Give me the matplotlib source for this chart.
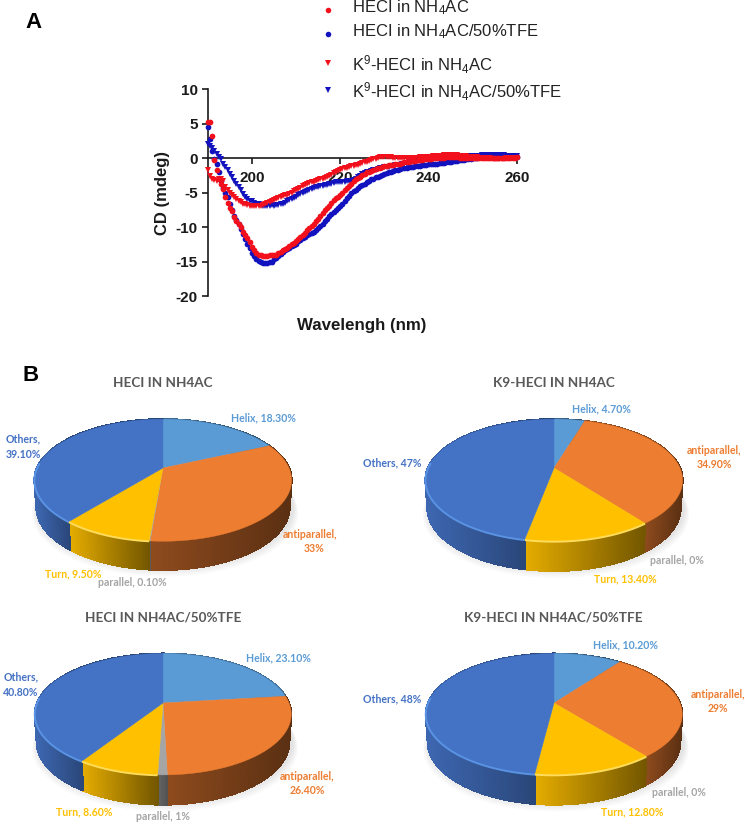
import numpy as np
import matplotlib
matplotlib.use("Agg")
import matplotlib.pyplot as plt
from matplotlib.collections import PolyCollection
from matplotlib.colors import to_rgb

plt.rcParams['font.family'] = ['Liberation Sans', 'DejaVu Sans']
plt.rcParams['mathtext.fontset'] = 'custom'
plt.rcParams['mathtext.rm'] = 'Liberation Sans'
plt.rcParams['mathtext.default'] = 'regular'
plt.rcParams['axes.unicode_minus'] = False

W, H = 750, 824

# ---- CD spectra (mdeg), one value per 0.5 nm from 190 to 260 nm ----
wavelength = np.arange(190, 260.25, 0.5)
heci_nh4ac = [
    5.2, 5.2, 3.2, -0.3, -1.7, -3.0, -3.8, -4.5, -5.7, -6.5,
    -7.3, -7.7, -8.5, -9.1, -9.6, -10.0, -10.7, -11.2, -11.6, -12.2,
    -12.9, -13.4, -13.7, -14.0, -14.1, -14.2, -14.2, -14.2, -14.1, -14.1,
    -14.1, -14.0, -13.8, -13.6, -13.4, -13.2, -13.0, -12.7, -12.5, -12.3,
    -12.0, -11.7, -11.5, -11.1, -10.8, -10.4, -10.1, -9.8, -9.5, -9.1,
    -8.8, -8.4, -8.0, -7.6, -7.3, -6.9, -6.5, -6.1, -5.8, -5.6,
    -5.4, -5.1, -4.7, -4.4, -4.0, -3.7, -3.4, -3.1, -2.9, -2.7,
    -2.5, -2.3, -2.1, -2.0, -1.9, -1.7, -1.6, -1.5, -1.4, -1.3,
    -1.2, -1.1, -1.05, -1.0, -0.95, -0.9, -0.85, -0.8, -0.7, -0.65,
    -0.6, -0.55, -0.5, -0.45, -0.4, -0.35, -0.3, -0.25, -0.2, -0.15,
    -0.1, -0.1, -0.05, -0.05, 0.0, 0.0, 0.05, 0.05, 0.1, 0.1,
    0.1, 0.1, 0.1, 0.1, 0.05, 0.05, 0.05, 0.05, 0.0, 0.0,
    0.0, 0.0, 0.05, 0.05, 0.05, 0.05, 0.0, 0.0, 0.0, 0.0,
    0.0, 0.0, 0.0, -0.05, -0.05, -0.05, -0.05, 0.0, 0.0, 0.0,
    0.1]
heci_tfe = [
    4.5, 2.7, 1.0, -0.2, -0.9, -2.0, -3.3, -4.3, -5.0, -5.7,
    -6.7, -7.5, -8.4, -9.0, -9.6, -10.3, -11.0, -11.7, -12.4, -13.0,
    -13.7, -14.2, -14.6, -14.9, -15.1, -15.2, -15.2, -15.2, -15.1, -15.0,
    -14.7, -14.5, -14.2, -13.9, -13.6, -13.4, -13.2, -13.0, -12.8, -12.6,
    -12.4, -12.1, -11.9, -11.6, -11.4, -11.2, -11.0, -10.8, -10.7, -10.5,
    -10.2, -9.9, -9.5, -9.1, -8.8, -8.4, -8.1, -7.8, -7.5, -7.2,
    -6.9, -6.6, -6.2, -5.8, -5.5, -5.1, -4.8, -4.6, -4.3, -4.1,
    -3.9, -3.7, -3.5, -3.3, -3.1, -3.0, -2.8, -2.7, -2.6, -2.4,
    -2.3, -2.2, -2.1, -2.0, -1.9, -1.8, -1.7, -1.6, -1.5, -1.45,
    -1.4, -1.35, -1.3, -1.25, -1.2, -1.15, -1.1, -1.05, -1.0, -0.95,
    -0.9, -0.85, -0.85, -0.8, -0.8, -0.75, -0.7, -0.7, -0.65, -0.6,
    -0.55, -0.5, -0.45, -0.4, -0.35, -0.3, -0.25, -0.2, -0.15, -0.1,
    -0.05, 0.0, 0.05, 0.1, 0.15, 0.2, 0.2, 0.2, 0.25, 0.25,
    0.25, 0.25, 0.25, 0.25, 0.25, 0.25, 0.25, 0.2, 0.2, 0.2,
    0.2]
k9_nh4ac = [
    -1.8, -2.6, -3.0, -3.2, -3.3, -3.1, -3.0, -3.3, -4.2, -4.7,
    -5.1, -5.4, -5.7, -6.0, -6.2, -6.4, -6.6, -6.7, -6.8, -6.9,
    -7.0, -7.0, -7.0, -6.95, -6.9, -6.8, -6.7, -6.5, -6.4, -6.3,
    -6.1, -5.95, -5.85, -5.7, -5.55, -5.4, -5.3, -5.15, -5.0, -4.8,
    -4.7, -4.5, -4.3, -4.1, -3.9, -3.75, -3.65, -3.55, -3.45, -3.35,
    -3.25, -3.1, -3.0, -2.85, -2.7, -2.55, -2.4, -2.2, -2.05, -1.9,
    -1.7, -1.6, -1.5, -1.4, -1.3, -1.2, -1.15, -1.05, -0.95, -0.85,
    -0.75, -0.65, -0.55, -0.4, -0.3, -0.2, -0.1, 0.0, 0.1, 0.15,
    0.15, 0.15, 0.1, 0.1, 0.05, 0.05, 0.0, 0.0, -0.05, -0.05,
    -0.1, -0.05, -0.05, 0.0, 0.0, 0.05, 0.1, 0.1, 0.15, 0.15,
    0.2, 0.2, 0.25, 0.3, 0.3, 0.35, 0.35, 0.4, 0.4, 0.45,
    0.45, 0.45, 0.4, 0.4, 0.35, 0.3, 0.25, 0.25, 0.2, 0.15,
    0.15, 0.1, 0.1, 0.05, 0.05, 0.0, 0.0, -0.05, -0.05, -0.1,
    -0.1, -0.1, -0.1, -0.1, -0.1, -0.05, -0.05, -0.05, -0.05, -0.05,
    -0.05]
k9_tfe = [
    2.0, 1.7, 1.4, 1.0, 0.6, 0.2, -0.2, -0.8, -1.3, -1.8,
    -2.3, -2.8, -3.3, -3.8, -4.2, -4.7, -5.2, -5.6, -6.0, -6.2,
    -6.3, -6.5, -6.6, -6.7, -6.8, -6.9, -7.0, -7.0, -6.9, -6.85,
    -6.9, -6.85, -6.8, -6.7, -6.6, -6.5, -6.3, -6.1, -5.95, -5.8,
    -5.6, -5.4, -5.25, -5.05, -4.9, -4.75, -4.6, -4.45, -4.35, -4.25,
    -4.2, -4.1, -4.0, -3.95, -3.9, -3.8, -3.75, -3.65, -3.55, -3.5,
    -3.5, -3.45, -3.45, -3.4, -3.4, -3.35, -3.2, -3.0, -2.8, -2.6,
    -2.3, -2.2, -2.1, -2.0, -1.9, -1.8, -1.7, -1.65, -1.5, -1.45,
    -1.35, -1.3, -1.25, -1.15, -1.1, -1.05, -1.0, -0.95, -0.9, -0.85,
    -0.8, -0.7, -0.65, -0.6, -0.5, -0.45, -0.4, -0.3, -0.25, -0.2,
    -0.1, -0.05, 0.0, 0.05, 0.05, 0.1, 0.1, 0.15, 0.15, 0.2,
    0.2, 0.2, 0.2, 0.2, 0.2, 0.25, 0.25, 0.25, 0.25, 0.25,
    0.25, 0.3, 0.3, 0.35, 0.4, 0.4, 0.45, 0.45, 0.45, 0.45,
    0.45, 0.45, 0.45, 0.45, 0.4, 0.35, 0.35, 0.3, 0.3, 0.25,
    0.25]

series_labels = [r"HECI in NH$_4$AC", r"HECI in NH$_4$AC/50%TFE",
                 r"K$^9$-HECI in NH$_4$AC", r"K$^9$-HECI in NH$_4$AC/50%TFE"]

# ---- secondary structure content (%) ----
slice_names = ["Helix", "antiparallel", "parallel", "Turn", "Others"]
slice_colors = ["#5B9BD5", "#ED7D31", "#A5A5A5", "#FFC000", "#4472C4"]
heci_content = [18.3, 33.0, 0.1, 9.5, 39.1]
k9_content = [4.7, 34.9, 0.0, 13.4, 47.0]
heci_tfe_content = [23.1, 26.4, 1.0, 8.6, 40.8]
k9_tfe_content = [10.2, 29.0, 0.0, 12.8, 48.0]

wall_shade = {"Helix": (0.7, 0.5), "antiparallel": (0.6, 0.38), "parallel": (0.62, 0.5),
              "Turn": (0.9, 0.45), "Others": (0.9, 0.62)}
rim_color = {"Others": "#5A93E3", "Turn": "#FFDC5A"}


def rect(left, top, right, bottom):
    return [left / W, 1 - bottom / H, (right - left) / W, (bottom - top) / H]


fig = plt.figure(figsize=(W / 100, H / 100), dpi=100, facecolor="white")

# ---- panel A ----
ax = fig.add_axes(rect(207.7, 89, 517, 296))
RED, BLUE = "#F2101C", "#1212BE"
ax.plot(wavelength, k9_tfe, ls="", marker="v", ms=3.9, color=BLUE, mew=0, clip_on=False, zorder=3)
ax.plot(wavelength, heci_tfe, ls="", marker="o", ms=4.1, color=BLUE, mew=0, clip_on=False, zorder=3)
ax.plot(wavelength, k9_nh4ac, ls="", marker="v", ms=3.9, color=RED, mew=0, clip_on=False, zorder=4)
ax.plot(wavelength, heci_nh4ac, ls="", marker="o", ms=4.1, color=RED, mew=0, clip_on=False, zorder=4)
ax.set_xlim(190, 260)
ax.set_ylim(-20, 10)
for s in ("top", "right"):
    ax.spines[s].set_visible(False)
ax.spines["bottom"].set_position(("data", 0))
for s in ("left", "bottom"):
    ax.spines[s].set_linewidth(1.2)
    ax.spines[s].set_color("#1a1a1a")
ax.set_xticks([200, 220, 240, 260])
ax.set_yticks([-20, -15, -10, -5, 0, 5, 10])
ax.tick_params(axis="both", length=4.5, width=1.2, color="#1a1a1a", labelsize=11, pad=2.5)
ax.tick_params(axis="x", pad=5)
for t in ax.get_xticklabels() + ax.get_yticklabels():
    t.set_fontweight("bold")
    t.set_color("#1a1a1a")
ax.patch.set_alpha(0)

# overlay for free-standing text and the hand-placed key
ov = fig.add_axes([0, 0, 1, 1], zorder=10)
ov.set_xlim(0, W)
ov.set_ylim(H, 0)
ov.axis("off")
ov.text(33, 22, "A", fontsize=16, fontweight="bold", ha="center", va="center")
ov.text(31, 375, "B", fontsize=16, fontweight="bold", ha="center", va="center")
ov.text(362, 325, "Wavelengh (nm)", fontsize=12.2, fontweight="bold", ha="center", va="center", color="#1a1a1a")
ov.text(162, 193, "CD (mdeg)", fontsize=12, fontweight="bold", rotation=90, ha="center", va="center", color="#1a1a1a")
key_y = [10, 34, 63, 90]
key_text_y = [8, 32, 65, 92]
key_style = [("o", RED, 4), ("o", BLUE, 4), ("v", RED, 3.8), ("v", BLUE, 3.8)]
for lab, my, ty, (m, c, ms) in zip(series_labels, key_y, key_text_y, key_style):
    ov.plot([328], [my], marker=m, color=c, ms=ms, mew=0, ls="")
    ov.text(352, ty, lab, fontsize=12, color="#222222", ha="left", va="center")


# ---- panel B: 3-D looking pies with perspective ----
def project(theta, a, b, k):
    u, v = np.sin(theta), np.cos(theta)
    w = 1 + k * v
    return a * u / w, b * v / w


def mix(c, f):
    return tuple(np.clip(np.array(to_rgb(c)) * f, 0, 1))


def draw_pie(values, cx, cy, depth, k, title, title_xy, labels):
    axp = fig.add_axes(rect(cx - 165, cy - 90, cx + 165, cy + 125))
    axp.set_xlim(-165, 165)
    axp.set_ylim(125, -90)
    axp.axis("off")
    a, b = 126.0, 58.6

    fr = np.cumsum([0] + list(values), dtype=float) / sum(values)
    ang = fr * 2 * np.pi

    # soft ground shadow
    full = np.linspace(0, 2 * np.pi, 200)
    sx, sy = project(full, a, b, k)
    for i in range(7):
        grow = 1 + 0.006 * i
        axp.fill(sx * grow + 2, -sy * grow + depth * (1.05 + 0.035 * i), color="#555555", alpha=0.022, lw=0)

    # side wall, front part stays visible once the top is painted over it
    for i, name in enumerate(slice_names):
        if values[i] <= 0:
            continue
        th = np.linspace(ang[i], ang[i + 1], max(int((ang[i + 1] - ang[i]) / 0.012), 3))
        x, y = project(th, a, b, k)
        y = -y
        v = np.cos(th)
        vis = v < 0.2
        xmin, xmax = (x[vis].min(), x[vis].max()) if vis.sum() > 1 else (x.min(), x.max())
        lo, hi = wall_shade[name]
        quads, cols = [], []
        for j in range(len(th) - 1):
            d0, d1 = depth * (1 - 0.1 * v[j]), depth * (1 - 0.1 * v[j + 1])
            quads.append([(x[j], y[j]), (x[j + 1], y[j + 1]),
                          (x[j + 1] * 0.985, y[j + 1] + d1), (x[j] * 0.985, y[j] + d0)])
            t = np.clip((x[j] - xmin) / max(xmax - xmin, 1e-6), 0, 1)
            cols.append(mix(slice_colors[i], lo + (hi - lo) * t))
        axp.add_collection(PolyCollection(quads, facecolors=cols, edgecolors=cols, linewidths=0.8,
                                          antialiaseds=False, zorder=2))

    # top surface
    for i, name in enumerate(slice_names):
        if values[i] <= 0:
            continue
        th = np.linspace(ang[i], ang[i + 1], max(int((ang[i + 1] - ang[i]) / 0.02), 3))
        x, y = project(th, a, b, k)
        axp.fill(np.r_[0, x], np.r_[0, -y], color=slice_colors[i], lw=0.3, zorder=3)
        if name in rim_color:
            front = np.cos(th) < 0.1
            axp.plot(x[front], -y[front] + 0.4, color=rim_color[name],
                     lw=1.4, zorder=4, solid_capstyle="butt")

    ov.text(*title_xy, title, fontsize=9.7, fontweight="bold", color="#595959", ha="center", va="center", family="Lato")
    for (txt, lx, ly, i) in labels:
        ov.text(lx, ly, txt, fontsize=7.6, fontweight="bold", color=slice_colors[i], ha="center", va="center", family="Lato")


draw_pie(heci_content, 163, 468, 26, 0.2, "HECI IN NH4AC", (163, 383), [
    ("Helix, 18.30%", 263, 418, 0), ("antiparallel,", 310, 535, 1), ("33%", 314, 548, 1),
    ("parallel, 0.10%", 132, 582, 2), ("Turn, 9.50%", 73, 574, 3),
    ("Others,", 23, 439, 4), ("39.10%", 23, 454, 4)])
draw_pie(k9_content, 554, 468, 27, 0.2, "K9-HECI IN NH4AC", (554, 383), [
    ("Helix, 4.70%", 601, 409, 0), ("antiparallel,", 714, 450, 1), ("34.90%", 714, 464, 1),
    ("parallel, 0%", 677, 560, 2), ("Turn, 13.40%", 625, 579, 3), ("Others, 47%", 392, 463, 4)])
draw_pie(heci_tfe_content, 163, 703, 27, 0.185, "HECI IN NH4AC/50%TFE", (163, 618), [
    ("Helix, 23.10%", 278, 658, 0), ("antiparallel,", 307, 777, 1), ("26.40%", 307, 791, 1),
    ("parallel, 1%", 163, 816, 2), ("Turn, 8.60%", 84, 812, 3),
    ("Others,", 21, 677, 4), ("40.80%", 21, 692, 4)])
draw_pie(k9_tfe_content, 554, 703, 27, 0.185, "K9-HECI IN NH4AC/50%TFE", (553, 618), [
    ("Helix, 10.20%", 625, 645, 0), ("antiparallel,", 718, 695, 1), ("29%", 718, 709, 1),
    ("parallel, 0%", 679, 793, 2), ("Turn, 12.80%", 632, 812, 3), ("Others, 48%", 392, 699, 4)])

fig.savefig("out.png", dpi=100, facecolor="white")
